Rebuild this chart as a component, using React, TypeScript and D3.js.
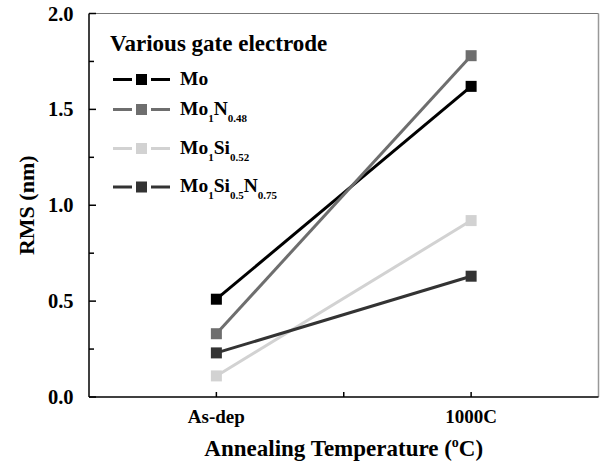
import React from "react";
import * as d3 from "d3";

const categories = ["As-dep", "1000C"];
const seriesNames = ["Mo", "MoN", "MoSi", "MoSiN"];
const moValues = [0.51, 1.62];
const moNValues = [0.33, 1.78];
const moSiValues = [0.11, 0.92];
const moSiNValues = [0.23, 0.63];
const yTicks = [0, 0.5, 1.0, 1.5, 2.0];
const yMinorTicks = [0.25, 0.75, 1.25, 1.75];

const colors = ["#000000", "#6e6e6e", "#d2d2d2", "#333333"];

const W = 602, H = 468;
const left = 89, right = 598.5, top = 13.5, bottom = 397;

export default function App() {
  const x = d3.scaleLinear().domain([0.5, 2.5]).range([left, right]);
  const y = d3.scaleLinear().domain([0, 2]).range([bottom, top]);
  const series = [moValues, moNValues, moSiValues, moSiNValues];
  const line = d3.line<number>().x((_, i) => x(i + 1)).y((d) => y(d));
  const font = '"Liberation Serif", "DejaVu Serif", serif';
  const legendRows = [79.5, 109.5, 148.5, 187];
  const ms = 11;
  const sub = 11;
  const sd = 7;

  const legendLabel = (i: number) => {
    if (i === 0) return <tspan>Mo</tspan>;
    if (i === 1)
      return (
        <>
          <tspan>Mo</tspan>
          <tspan fontSize={sub} dy={sd}>1</tspan>
          <tspan dy={-sd}>N</tspan>
          <tspan fontSize={sub} dy={sd}>0.48</tspan>
        </>
      );
    if (i === 2)
      return (
        <>
          <tspan>Mo</tspan>
          <tspan fontSize={sub} dy={sd}>1</tspan>
          <tspan dy={-sd}>Si</tspan>
          <tspan fontSize={sub} dy={sd}>0.52</tspan>
        </>
      );
    return (
      <>
        <tspan>Mo</tspan>
        <tspan fontSize={sub} dy={sd}>1</tspan>
        <tspan dy={-sd}>Si</tspan>
        <tspan fontSize={sub} dy={sd}>0.5</tspan>
        <tspan dy={-sd}>N</tspan>
        <tspan fontSize={sub} dy={sd}>0.75</tspan>
      </>
    );
  };

  return (
    <svg width={W} height={H} style={{ position: "absolute", left: 0, top: 0, background: "#fff", fontFamily: font, fontWeight: "bold" }}>
      {/* frame */}
      <line x1={left} x2={right} y1={top} y2={top} stroke="#777" strokeWidth={1} />
      <line x1={right} x2={right} y1={top} y2={bottom} stroke="#999" strokeWidth={1.5} />
      <line x1={left} x2={left} y1={top} y2={bottom} stroke="#000" strokeWidth={1.5} />
      <line x1={left} x2={right} y1={bottom} y2={bottom} stroke="#000" strokeWidth={1.5} />
      {/* y ticks */}
      {yTicks.map((t) => (
        <g key={t}>
          <line x1={left} x2={left + 7} y1={y(t)} y2={y(t)} stroke="#000" strokeWidth={1.5} />
          <text x={73.5} y={y(t) + 7} textAnchor="end" fontSize={20.5}>{t.toFixed(1)}</text>
        </g>
      ))}
      {yMinorTicks.map((t) => (
        <line key={t} x1={left} x2={left + 5} y1={y(t)} y2={y(t)} stroke="#000" strokeWidth={1.5} />
      ))}
      {/* x ticks */}
      {[1, 1.5, 2].map((t) => (
        <line key={t} x1={x(t)} x2={x(t)} y1={bottom} y2={bottom - 5} stroke="#000" strokeWidth={1.5} />
      ))}
      {categories.map((c, i) => (
        <text key={c} x={x(i + 1)} y={422.5} textAnchor="middle" fontSize={19}>{c}</text>
      ))}
      <text x={(left + right) / 2} y={456} textAnchor="middle" fontSize={23}>
        Annealing Temperature (<tspan fontSize={14} dy={-9}>o</tspan><tspan dy={9}>C)</tspan>
      </text>
      <text transform={`translate(34,${(top + bottom) / 2}) rotate(-90)`} textAnchor="middle" fontSize={22}>RMS (nm)</text>
      {/* series */}
      {series.map((s, si) => (
        <g key={seriesNames[si]}>
          <path d={line(s) || ""} fill="none" stroke={colors[si]} strokeWidth={3} />
          {s.map((v, i) => (
            <rect key={i} x={x(i + 1) - ms / 2} y={y(v) - ms / 2} width={ms} height={ms} fill={colors[si]} />
          ))}
        </g>
      ))}
      {/* legend */}
      <text x={110} y={51} fontSize={23}>Various gate electrode</text>
      {seriesNames.map((n, i) => (
        <g key={n}>
          <line x1={113} x2={132} y1={legendRows[i]} y2={legendRows[i]} stroke={colors[i]} strokeWidth={3} />
          <line x1={151} x2={170} y1={legendRows[i]} y2={legendRows[i]} stroke={colors[i]} strokeWidth={3} />
          <rect x={136} y={legendRows[i] - 5.5} width={11} height={11} fill={colors[i]} />
          <text x={180} y={legendRows[i] + 5} fontSize={19.5}>{legendLabel(i)}</text>
        </g>
      ))}
    </svg>
  );
}
